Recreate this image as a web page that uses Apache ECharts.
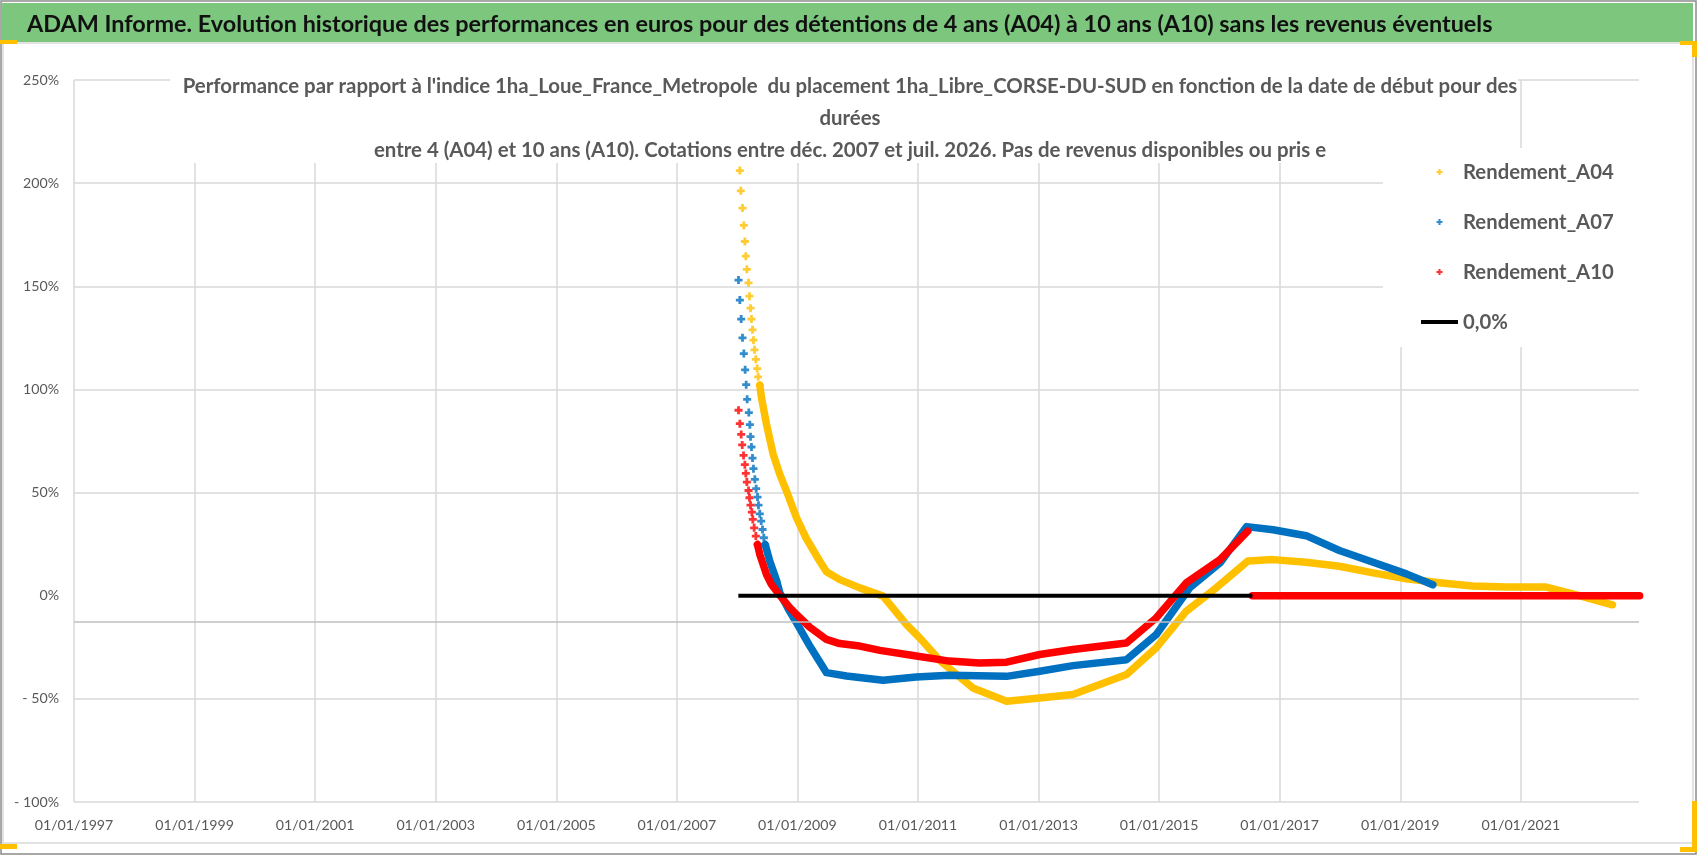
<!DOCTYPE html>
<html>
<head>
<meta charset="utf-8">
<script src="https://cdn.jsdelivr.net/npm/echarts@6/dist/echarts.min.js"></script>
<style>
  html, body { margin: 0; padding: 0; background: #fff; }
  #showChart { width: 1698px; height: 856px; }
</style>
</head>
<body>
<div id="showChart"></div>
<script>
// start dates as decimal years, returns in %
var a04CrossYears = [2008.045, 2008.061, 2008.089, 2008.111, 2008.128, 2008.144, 2008.161, 2008.189, 2008.205, 2008.222, 2008.238, 2008.255, 2008.271, 2008.288, 2008.310, 2008.332, 2008.349, 2008.376];
var a04CrossVals = [206.1, 196.3, 187.9, 179.5, 171.7, 164.6, 158.2, 151.7, 145.2, 139.4, 134.1, 128.9, 123.9, 119.2, 114.6, 110.1, 106.1, 102.0];
var a04LineYears = [2008.376, 2008.404, 2008.487, 2008.598, 2008.708, 2008.819, 2008.985, 2009.150, 2009.371, 2009.482, 2009.703, 2010.035, 2010.42, 2010.81, 2011.03, 2011.36, 2011.91, 2012.47, 2013.02, 2013.57, 2014.46, 2014.95, 2015.45, 2015.95, 2016.47, 2016.89, 2017.44, 2017.99, 2018.55, 2019.10, 2019.65, 2020.20, 2020.76, 2021.42, 2021.86, 2022.52];
var a04LineVals = [102.0, 96.0, 83.1, 68.5, 58.8, 50.7, 37.8, 27.6, 16.7, 11.6, 7.8, 3.8, -0.2, -14.0, -20.5, -31.3, -44.7, -51.2, -49.6, -47.9, -38.2, -25.3, -7.5, 3.9, 16.8, 17.5, 16.2, 14.3, 11.1, 8.2, 6.3, 4.7, 4.2, 4.2, 0.9, -4.4];

var a07CrossYears = [2008.023, 2008.045, 2008.067, 2008.089, 2008.111, 2008.133, 2008.150, 2008.166, 2008.194, 2008.211, 2008.222, 2008.238, 2008.255, 2008.271, 2008.294, 2008.316, 2008.338, 2008.354, 2008.376, 2008.399, 2008.421, 2008.443, 2008.465];
var a07CrossVals = [153.0, 143.3, 134.1, 125.0, 117.4, 109.5, 102.3, 95.2, 88.8, 82.9, 77.1, 72.1, 66.7, 61.6, 56.4, 51.9, 47.8, 43.9, 39.7, 36.2, 32.1, 28.1, 24.8];
var a07LineYears = [2008.465, 2008.542, 2008.653, 2008.708, 2008.850, 2008.985, 2009.206, 2009.482, 2009.814, 2010.42, 2010.97, 2011.52, 2012.47, 2013.02, 2013.57, 2014.46, 2014.95, 2015.51, 2016.01, 2016.45, 2016.89, 2017.44, 2017.99, 2018.55, 2019.10, 2019.54];
var a07LineVals = [24.8, 16.7, 7.5, 1.4, -6.5, -13.1, -24.4, -37.3, -38.9, -41.0, -39.4, -38.6, -39.1, -36.6, -33.9, -31.0, -18.9, 3.9, 15.9, 33.5, 32.0, 29.1, 21.9, 16.2, 10.6, 5.3];

var a10CrossYears = [2008.023, 2008.045, 2008.067, 2008.084, 2008.106, 2008.128, 2008.144, 2008.161, 2008.189, 2008.205, 2008.222, 2008.244, 2008.260, 2008.282, 2008.310, 2008.338];
var a10CrossVals = [89.9, 83.4, 78.2, 73.1, 68.0, 63.5, 59.3, 55.1, 51.0, 47.5, 43.9, 40.5, 37.0, 32.9, 28.9, 24.8];
var a10LineYears = [2008.338, 2008.376, 2008.432, 2008.487, 2008.570, 2008.700, 2008.850, 2008.985, 2009.206, 2009.482, 2009.700, 2010.035, 2010.37, 2010.92, 2011.52, 2012.02, 2012.47, 2013.02, 2013.57, 2014.46, 2014.95, 2015.45, 2016.01, 2016.47];
var a10LineVals = [24.8, 20.0, 15.1, 10.3, 5.4, 0.5, -5.0, -9.1, -15.3, -21.2, -23.2, -24.4, -26.5, -29.0, -31.7, -32.6, -32.2, -28.5, -26.1, -22.9, -10.8, 6.2, 17.5, 31.3];
var a10TailYears = [2016.547, 2022.97];
var a10TailVals = [0, 0];

var zeroYears = [2008.02, 2016.547];
var zeroVals = [0, 0];

var yTicks = [-100, -50, 0, 50, 100, 150, 200, 250];
var xTickYears = [1997, 1999, 2001, 2003, 2005, 2007, 2009, 2011, 2013, 2015, 2017, 2019, 2021];
var axisCrossVal = -12.6;

var seriesNames = ['Rendement_A04', 'Rendement_A07', 'Rendement_A10', '0,0%'];
var colors = ['#FFC000', '#0070C0', '#FF0000', '#000000'];

var bannerText = 'ADAM Informe. Evolution historique des performances en euros pour des détentions de 4 ans (A04) à 10 ans (A10) sans les revenus éventuels';
var chartTitle = [
    "Performance par rapport à l'indice 1ha_Loue_France_Metropole  du placement 1ha_Libre_CORSE-DU-SUD en fonction de la date de début pour des",
    'durées',
    'entre 4 (A04) et 10 ans (A10). Cotations entre déc. 2007 et juil. 2026. Pas de revenus disponibles ou pris e'
];

var BASE = 1997;
var FONT = 'Lato';
var crossIcon = 'path://M2.6,0H5.4V2.6H8V5.4H5.4V8H2.6V5.4H0V2.6H2.6Z';

// font size that gives a text the width it has in the picture
var measureCtx = document.createElement('canvas').getContext('2d');
function fitSize(text, weight, width) {
    measureCtx.font = weight + ' 100px ' + FONT;
    return Math.round(1000 * width / measureCtx.measureText(text).width) / 10;
}
var bannerSize = fitSize(bannerText, 'bold', 1466);
var titleSize = fitSize(chartTitle[0], 'bold', 1336);
var legendSize = fitSize('Rendement_A04', 'bold', 151);
var xLabelSize = fitSize('01/01/1997', 'normal', 79);
var yLabelSize = fitSize('250%', 'normal', 36);

function pairs(xs, ys) {
    var out = [];
    for (var i = 0; i < xs.length; i++) out.push([xs[i] - BASE, ys[i]]);
    return out;
}

function crossSeries(name, color, xs, ys) {
    return {
        name: name, type: 'scatter', symbol: crossIcon, symbolSize: 8,
        itemStyle: { color: color }, data: pairs(xs, ys), z: 3
    };
}

function bandSeries(name, color, xs, ys) {
    return {
        name: name, type: 'line', showSymbol: false, symbol: 'none',
        lineStyle: { color: color, width: 7.5, join: 'round', cap: 'round' },
        itemStyle: { color: color }, data: pairs(xs, ys), z: 3
    };
}

var gridColors = yTicks.map(function (v) { return v === 0 ? 'rgba(0,0,0,0)' : '#d9d9d9'; });

var option = {
    animation: false,
    backgroundColor: '#ffffff',
    title: [{
        text: chartTitle.join('\n'),
        left: 845, top: 65, textAlign: 'center',
        textStyle: { fontFamily: FONT, fontSize: titleSize, fontWeight: 'bold', color: '#595959', lineHeight: 32 },
        z: 10
    }, {
        text: bannerText,
        left: 22, top: 8,
        textStyle: { fontFamily: FONT, fontSize: bannerSize, fontWeight: 'bold', color: '#111111' },
        z: 10
    }],
    legend: {
        orient: 'vertical', left: 1416, top: 157,
        itemWidth: 37, itemHeight: 6, itemGap: 30,
        textStyle: { fontFamily: FONT, fontSize: legendSize, fontWeight: 'bold', color: '#595959' },
        data: [
            { name: seriesNames[0], icon: crossIcon },
            { name: seriesNames[1], icon: crossIcon },
            { name: seriesNames[2], icon: crossIcon },
            { name: seriesNames[3], icon: 'path://M0,0H37V4H0Z' }
        ]
    },
    graphic: [
        { type: 'rect', shape: { x: 1, y: 1, width: 1695, height: 853 }, style: { fill: 'none', stroke: '#8c8c8c', lineWidth: 1.5 }, z: 1 },
        { type: 'rect', shape: { x: 3, y: 43, width: 1690, height: 800 }, style: { fill: 'none', stroke: '#d9d9d9', lineWidth: 1.5 }, z: 1 },
        { type: 'rect', shape: { x: 2, y: 3, width: 1691, height: 39 }, style: { fill: '#7DC67E' }, z: 1 },
        { type: 'rect', shape: { x: 170, y: 62, width: 1348, height: 101 }, style: { fill: '#ffffff' }, z: 1 },
        { type: 'rect', shape: { x: 1383, y: 148, width: 257, height: 199 }, style: { fill: '#ffffff' }, z: 1 },
        { type: 'rect', shape: { x: 0, y: 40, width: 17, height: 4 }, style: { fill: '#FFC000' }, z: 2 },
        { type: 'rect', shape: { x: 1680, y: 41, width: 17, height: 4 }, style: { fill: '#FFC000' }, z: 2 },
        { type: 'rect', shape: { x: 1692, y: 41, width: 5, height: 16 }, style: { fill: '#FFC000' }, z: 2 },
        { type: 'rect', shape: { x: 0, y: 844, width: 17, height: 5 }, style: { fill: '#FFC000' }, z: 2 },
        { type: 'rect', shape: { x: 1692, y: 801, width: 5, height: 51 }, style: { fill: '#FFC000' }, z: 2 },
        { type: 'rect', shape: { x: 1680, y: 847, width: 17, height: 5 }, style: { fill: '#FFC000' }, z: 2 }
    ],
    grid: { left: 74, right: 59, top: 80, bottom: 54, containLabel: false },
    xAxis: {
        type: 'value', min: 0, max: 25.96, interval: 2,
        axisLine: { show: false, onZero: false },
        axisTick: { show: false },
        axisLabel: {
            margin: 16, showMaxLabel: false,
            fontFamily: FONT, fontSize: xLabelSize, color: '#595959',
            formatter: function (v) {
                var y = Math.round(v) + BASE;
                return xTickYears.indexOf(y) >= 0 && Math.abs(v - Math.round(v)) < 1e-6 ? '01/01/' + y : '';
            }
        },
        splitLine: { show: true, showMaxLine: false, lineStyle: { color: '#d9d9d9', width: 1.5 } }
    },
    yAxis: {
        type: 'value', min: yTicks[0], max: yTicks[yTicks.length - 1], interval: 50,
        axisLine: { show: false },
        axisTick: { show: false },
        axisLabel: {
            margin: 15, fontFamily: FONT, fontSize: yLabelSize, color: '#595959',
            formatter: function (v) { return v < 0 ? '- ' + (-v) + '%' : v + '%'; }
        },
        splitLine: { show: true, lineStyle: { color: gridColors, width: 1.5 } }
    },
    series: [
        crossSeries(seriesNames[0], colors[0], a04CrossYears, a04CrossVals),
        bandSeries(seriesNames[0], colors[0], a04LineYears, a04LineVals),
        crossSeries(seriesNames[1], colors[1], a07CrossYears, a07CrossVals),
        bandSeries(seriesNames[1], colors[1], a07LineYears, a07LineVals),
        crossSeries(seriesNames[2], colors[2], a10CrossYears, a10CrossVals),
        bandSeries(seriesNames[2], colors[2], a10LineYears, a10LineVals),
        bandSeries(seriesNames[2], colors[2], a10TailYears, a10TailVals),
        {
            name: seriesNames[3], type: 'line', showSymbol: false, symbol: 'none',
            lineStyle: { color: colors[3], width: 4 }, itemStyle: { color: colors[3] },
            data: pairs(zeroYears, zeroVals), z: 3,
            markLine: {
                silent: true, symbol: 'none', label: { show: false },
                lineStyle: { color: '#bfbfbf', width: 1.5, type: 'solid' },
                data: [{ yAxis: axisCrossVal }]
            }
        }
    ]
};

var chartOutChar = echarts.init(document.getElementById('showChart'));
chartOutChar.setOption(option);
</script>
</body>
</html>
